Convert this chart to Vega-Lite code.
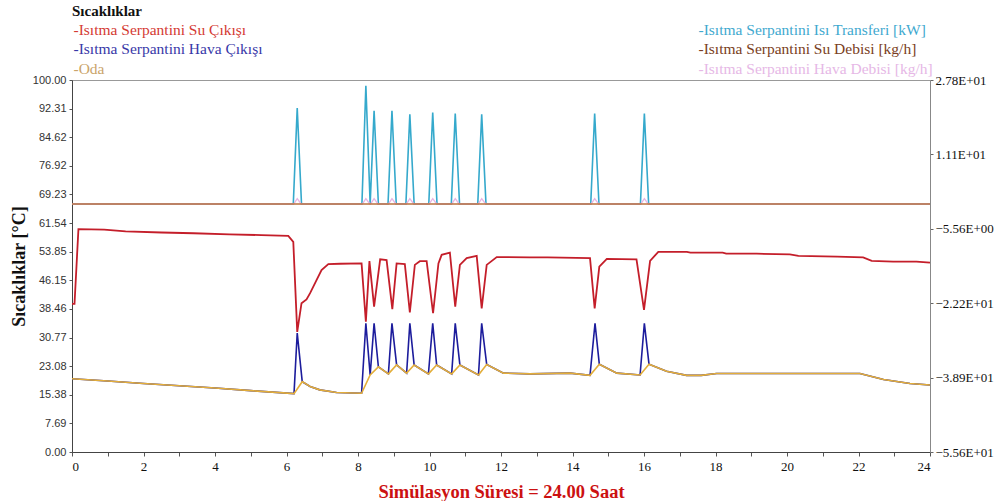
{
  "$schema": "https://vega.github.io/schema/vega-lite/v6.json",
  "autosize": {"type": "none"},
  "width": 858,
  "height": 372,
  "padding": {"left": 72, "top": 80, "right": 76, "bottom": 49},
  "background": "white",
  "config": {
    "view": {"stroke": "#999999", "strokeWidth": 1},
    "axis": {"grid": false, "labelOverlap": false, "labelBound": false}
  },
  "layer": [
    {
      "layer": [
        {
          "data": {"values": [
            {"saat":0,"deger":19.7},{"saat":1,"deger":19.1},{"saat":2,"deger":18.4},{"saat":3,"deger":17.8},{"saat":4,"deger":17.2},{"saat":5,"deger":16.5},{"saat":6.21,"deger":15.7},
            {"saat":6.3,"deger":32.0},{"saat":6.44,"deger":18.9},{"saat":6.66,"deger":17.6},{"saat":6.93,"deger":16.7},{"saat":7.4,"deger":16.0},{"saat":8.1,"deger":15.8},
            {"saat":8.22,"deger":34.6},{"saat":8.34,"deger":20.7},{"saat":8.45,"deger":34.6},{"saat":8.57,"deger":22.9},{"saat":8.85,"deger":21.0},
            {"saat":8.95,"deger":34.6},{"saat":9.08,"deger":23.4},{"saat":9.36,"deger":21.2},{"saat":9.45,"deger":34.6},{"saat":9.57,"deger":23.4},
            {"saat":9.97,"deger":21.0},{"saat":10.09,"deger":34.6},{"saat":10.2,"deger":23.4},{"saat":10.62,"deger":21.0},{"saat":10.72,"deger":34.6},
            {"saat":10.85,"deger":23.4},{"saat":11.37,"deger":20.7},{"saat":11.46,"deger":34.6},{"saat":11.6,"deger":23.5},{"saat":12.07,"deger":21.2},
            {"saat":12.81,"deger":21.0},{"saat":13.93,"deger":21.2},{"saat":14.49,"deger":20.6},{"saat":14.63,"deger":34.6},{"saat":14.75,"deger":23.6},
            {"saat":15.24,"deger":21.2},{"saat":15.89,"deger":20.7},{"saat":16.01,"deger":34.6},{"saat":16.14,"deger":23.6},{"saat":16.63,"deger":21.7},
            {"saat":17.19,"deger":20.6},{"saat":17.6,"deger":20.6},{"saat":18.03,"deger":21.1},{"saat":22.04,"deger":21.1},{"saat":22.7,"deger":19.5},
            {"saat":23.44,"deger":18.4},{"saat":24,"deger":18.0}
          ]},
          "mark": {"type": "line", "strokeWidth": 1.6},
          "encoding": {
            "x": {
              "field": "saat", "type": "quantitative",
              "scale": {"domain": [0, 24], "nice": false, "zero": false},
              "axis": {
                "values": [0,1,2,3,4,5,6,7,8,9,10,11,12,13,14,15,16,17,18,19,20,21,22,23,24],
                "tickCount": 40,
                "format": "d",
                "labelExpr": "datum.value % 2 === 0 ? datum.label : ''",
                "labelFont": "Liberation Serif", "labelFontSize": 13, "labelColor": "#111111",
                "labelPadding": 4, "tickSize": 4, "tickColor": "#555555", "domainColor": "#444444",
                "labelOverlap": false,
                "title": "Simülasyon Süresi = 24.00 Saat",
                "titleFont": "Liberation Serif", "titleFontSize": 18.5, "titleFontWeight": "bold",
                "titleColor": "#cc1111", "titlePadding": 9
              }
            },
            "y": {
              "field": "deger", "type": "quantitative",
              "scale": {"domain": [0, 100], "nice": false, "zero": false},
              "axis": {
                "values": [0, 7.69, 15.38, 23.08, 30.77, 38.46, 46.15, 53.85, 61.54, 69.23, 76.92, 84.62, 92.31, 100],
                "tickCount": 30,
                "format": ".2f",
                "labelOverlap": false,
                "labelFont": "Liberation Sans", "labelFontSize": 11, "labelColor": "#333333",
                "labelPadding": 3, "tickSize": 3, "tickColor": "#555555", "domainColor": "#444444",
                "title": "Sıcaklıklar [°C]",
                "titleFont": "Liberation Serif", "titleFontSize": 18, "titleFontWeight": "bold",
                "titleColor": "#111111", "titlePadding": 4
              }
            },
            "color": {
              "datum": "Isıtma Serpantini Hava Çıkışı", "type": "nominal",
              "scale": {
                "domain": ["Isıtma Serpantini Su Çıkışı", "Isıtma Serpantini Isı Transferi [kW]", "Isıtma Serpantini Hava Çıkışı", "Isıtma Serpantini Su Debisi [kg/h]", "Oda", "Isıtma Serpantini Hava Debisi [kg/h]"],
                "range": ["#c41e2a", "#35a9cc", "#1c1c9c", "#b8703c", "#e3ae3a", "#e8b4e4"]
              },
              "legend": {
                "orient": "none", "legendX": 0, "legendY": -76,
                "direction": "horizontal",
                "columns": 2, "columnPadding": 434, "rowPadding": 2.5,
                "title": "Sıcaklıklar", "titleFont": "Liberation Serif", "titleFontSize": 15,
                "titleFontWeight": "bold", "titleColor": "#111111", "titlePadding": 3,
                "titleAnchor": "start",
                "labelFont": "Liberation Serif", "labelFontSize": 15.5, "labelLimit": 400,
                "labelOffset": -14, "symbolSize": 0, "symbolStrokeWidth": 0, "symbolOpacity": 0,
                "labelExpr": "'-' + datum.label",
                "labelColor": {"expr": "datum.value === 'Isıtma Serpantini Su Çıkışı' ? '#d43a33' : datum.value === 'Isıtma Serpantini Isı Transferi [kW]' ? '#3fa9cf' : datum.value === 'Isıtma Serpantini Hava Çıkışı' ? '#3838a8' : datum.value === 'Isıtma Serpantini Su Debisi [kg/h]' ? '#7a3e22' : datum.value === 'Oda' ? '#caa46a' : '#e6b8e6'"}
              }
            }
          }
        },
        {
          "data": {"values": [
            {"saat":0,"deger":39.8},{"saat":0.07,"deger":39.8},{"saat":0.18,"deger":59.9},{"saat":0.9,"deger":59.8},{"saat":1.5,"deger":59.3},
            {"saat":2.5,"deger":59.0},{"saat":3.4,"deger":58.8},{"saat":4.4,"deger":58.5},{"saat":5.3,"deger":58.3},{"saat":6.05,"deger":58.1},
            {"saat":6.19,"deger":56.5},{"saat":6.3,"deger":32.3},{"saat":6.42,"deger":40.0},{"saat":6.56,"deger":41.0},{"saat":6.66,"deger":42.7},
            {"saat":6.84,"deger":46.2},{"saat":6.98,"deger":48.9},{"saat":7.17,"deger":50.5},{"saat":7.5,"deger":50.6},{"saat":8.1,"deger":50.7},
            {"saat":8.22,"deger":35.0},{"saat":8.32,"deger":51.3},{"saat":8.45,"deger":39.1},{"saat":8.62,"deger":51.8},{"saat":8.8,"deger":51.6},
            {"saat":8.96,"deger":38.4},{"saat":9.08,"deger":50.7},{"saat":9.31,"deger":50.5},{"saat":9.45,"deger":37.5},{"saat":9.59,"deger":50.3},
            {"saat":9.73,"deger":51.3},{"saat":9.92,"deger":51.3},{"saat":10.1,"deger":37.3},{"saat":10.25,"deger":50.7},{"saat":10.34,"deger":53.0},
            {"saat":10.57,"deger":53.6},{"saat":10.72,"deger":39.1},{"saat":10.85,"deger":50.3},{"saat":11.04,"deger":52.1},{"saat":11.32,"deger":52.7},
            {"saat":11.46,"deger":38.6},{"saat":11.6,"deger":50.3},{"saat":11.88,"deger":52.4},{"saat":12.8,"deger":52.3},{"saat":13.3,"deger":52.3},
            {"saat":14.49,"deger":52.1},{"saat":14.62,"deger":38.6},{"saat":14.75,"deger":49.8},{"saat":14.96,"deger":51.9},{"saat":15.79,"deger":51.8},
            {"saat":16.0,"deger":38.2},{"saat":16.17,"deger":51.4},{"saat":16.4,"deger":53.8},{"saat":17.2,"deger":53.8},{"saat":17.3,"deger":53.6},
            {"saat":18.2,"deger":53.6},{"saat":18.3,"deger":53.3},{"saat":19.15,"deger":53.3},{"saat":20.08,"deger":53.1},{"saat":20.32,"deger":52.7},
            {"saat":21.4,"deger":52.5},{"saat":22.13,"deger":52.3},{"saat":22.37,"deger":51.4},{"saat":22.97,"deger":51.2},{"saat":23.62,"deger":51.2},
            {"saat":24,"deger":50.9}
          ]},
          "mark": {"type": "line", "strokeWidth": 1.8},
          "encoding": {
            "x": {"field": "saat", "type": "quantitative"},
            "y": {"field": "deger", "type": "quantitative"},
            "color": {"datum": "Isıtma Serpantini Su Çıkışı", "type": "nominal"}
          }
        },
        {
          "data": {"values": [
            {"saat":0,"deger":19.7},{"saat":1,"deger":19.1},{"saat":2,"deger":18.4},{"saat":3,"deger":17.8},{"saat":4,"deger":17.2},{"saat":5,"deger":16.5},{"saat":6.21,"deger":15.7},
            {"saat":6.44,"deger":18.9},{"saat":6.66,"deger":17.6},{"saat":6.93,"deger":16.7},{"saat":7.4,"deger":16.0},{"saat":8.1,"deger":15.8},
            {"saat":8.34,"deger":20.7},{"saat":8.57,"deger":22.9},{"saat":8.85,"deger":21.0},{"saat":9.08,"deger":23.4},{"saat":9.36,"deger":21.2},
            {"saat":9.57,"deger":23.4},{"saat":9.97,"deger":21.0},{"saat":10.2,"deger":23.4},{"saat":10.62,"deger":21.0},{"saat":10.85,"deger":23.4},
            {"saat":11.37,"deger":20.7},{"saat":11.6,"deger":23.5},{"saat":12.07,"deger":21.2},{"saat":12.81,"deger":21.0},{"saat":13.93,"deger":21.2},
            {"saat":14.49,"deger":20.6},{"saat":14.75,"deger":23.6},{"saat":15.24,"deger":21.2},{"saat":15.89,"deger":20.7},{"saat":16.14,"deger":23.6},
            {"saat":16.63,"deger":21.7},{"saat":17.19,"deger":20.6},{"saat":17.6,"deger":20.6},{"saat":18.03,"deger":21.1},{"saat":22.04,"deger":21.1},
            {"saat":22.7,"deger":19.5},{"saat":23.44,"deger":18.4},{"saat":24,"deger":18.0}
          ]},
          "mark": {"type": "line", "strokeWidth": 1.6},
          "encoding": {
            "x": {"field": "saat", "type": "quantitative"},
            "y": {"field": "deger", "type": "quantitative"},
            "color": {"datum": "Oda", "type": "nominal"}
          }
        }
      ]
    },
    {
      "layer": [
        {
          "data": {"values": [
            {"saat":0,"deger":0},{"saat":6.19,"deger":0},{"saat":6.3,"deger":21.5},{"saat":6.42,"deger":0},
            {"saat":8.11,"deger":0},{"saat":8.22,"deger":26.5},{"saat":8.34,"deger":0},{"saat":8.45,"deger":20.9},{"saat":8.57,"deger":0},
            {"saat":8.84,"deger":0},{"saat":8.95,"deger":20.9},{"saat":9.07,"deger":0},
            {"saat":9.34,"deger":0},{"saat":9.45,"deger":20.1},{"saat":9.57,"deger":0},
            {"saat":9.98,"deger":0},{"saat":10.09,"deger":20.5},{"saat":10.21,"deger":0},
            {"saat":10.61,"deger":0},{"saat":10.72,"deger":20.3},{"saat":10.84,"deger":0},
            {"saat":11.35,"deger":0},{"saat":11.46,"deger":20.1},{"saat":11.58,"deger":0},
            {"saat":14.51,"deger":0},{"saat":14.62,"deger":20.3},{"saat":14.74,"deger":0},
            {"saat":15.9,"deger":0},{"saat":16.01,"deger":20.3},{"saat":16.13,"deger":0},
            {"saat":24,"deger":0}
          ]},
          "mark": {"type": "line", "strokeWidth": 1.6},
          "encoding": {
            "x": {"field": "saat", "type": "quantitative"},
            "y": {
              "field": "deger", "type": "quantitative",
              "scale": {"domain": [-55.6, 27.8], "nice": false, "zero": false},
              "axis": {
                "orient": "right",
                "values": [-55.6, -38.9, -22.2, -5.56, 11.1, 27.8],
                "tickCount": 20,
                "labelExpr": "upper(replace(format(datum.value, '.2e'), 'e+', 'E+0'))",
                "labelOverlap": false,
                "labelFont": "Liberation Serif", "labelFontSize": 13, "labelColor": "#111111",
                "labelPadding": 2, "tickSize": 3, "tickColor": "#666666", "domainColor": "#888888",
                "title": null
              }
            },
            "color": {"datum": "Isıtma Serpantini Isı Transferi [kW]", "type": "nominal"}
          }
        },
        {
          "data": {"values": [
            {"saat":0,"deger":0},{"saat":6.2,"deger":0},{"saat":6.3,"deger":1.2},{"saat":6.41,"deger":0},
            {"saat":8.12,"deger":0},{"saat":8.22,"deger":1.2},{"saat":8.33,"deger":0},{"saat":8.35,"deger":0},{"saat":8.45,"deger":1.2},{"saat":8.56,"deger":0},
            {"saat":8.85,"deger":0},{"saat":8.95,"deger":1.2},{"saat":9.06,"deger":0},
            {"saat":9.35,"deger":0},{"saat":9.45,"deger":1.2},{"saat":9.56,"deger":0},
            {"saat":9.99,"deger":0},{"saat":10.09,"deger":1.2},{"saat":10.2,"deger":0},
            {"saat":10.62,"deger":0},{"saat":10.72,"deger":1.2},{"saat":10.83,"deger":0},
            {"saat":11.36,"deger":0},{"saat":11.46,"deger":1.2},{"saat":11.57,"deger":0},
            {"saat":14.52,"deger":0},{"saat":14.62,"deger":1.2},{"saat":14.73,"deger":0},
            {"saat":15.91,"deger":0},{"saat":16.01,"deger":1.2},{"saat":16.12,"deger":0},
            {"saat":24,"deger":0}
          ]},
          "mark": {"type": "line", "strokeWidth": 1.3},
          "encoding": {
            "x": {"field": "saat", "type": "quantitative"},
            "y": {"field": "deger", "type": "quantitative"},
            "color": {"datum": "Isıtma Serpantini Hava Debisi [kg/h]", "type": "nominal"}
          }
        },
        {
          "data": {"values": [
            {"saat":0,"deger":0},{"saat":24,"deger":0}
          ]},
          "mark": {"type": "line", "strokeWidth": 1.6},
          "encoding": {
            "x": {"field": "saat", "type": "quantitative"},
            "y": {"field": "deger", "type": "quantitative"},
            "color": {"datum": "Isıtma Serpantini Su Debisi [kg/h]", "type": "nominal"}
          }
        }
      ]
    }
  ],
  "resolve": {"scale": {"y": "independent"}}
}
